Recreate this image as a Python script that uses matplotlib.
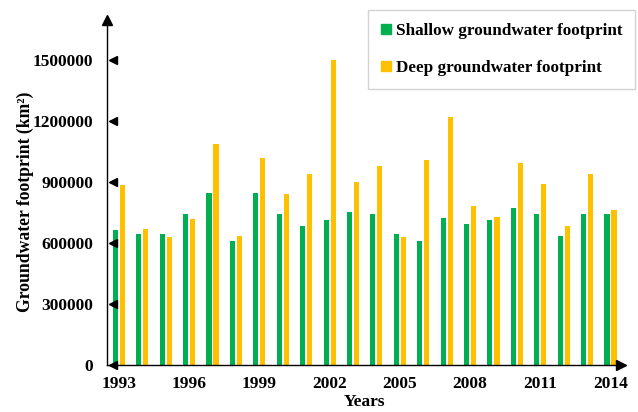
import matplotlib
matplotlib.use("Agg")
import matplotlib.pyplot as plt
import numpy as np
from matplotlib.patches import Patch

years = list(range(1993, 2015))
shallow = [664000, 644000, 644000, 741000, 845000, 611000, 845000, 741000, 684000, 713000, 751000,
           741000, 643000, 611000, 721000, 693000, 713000, 772000, 741000, 635000, 741000, 741000]
deep = [885000, 670000, 631000, 718000, 1087000, 635000, 1020000, 841000, 940000, 1500000, 900000,
        979000, 631000, 1008000, 1218000, 784000, 730000, 995000, 889000, 685000, 940000, 762000]
xtick_years = [1993, 1996, 1999, 2002, 2005, 2008, 2011, 2014]
yticks = [0, 300000, 600000, 900000, 1200000, 1500000]

green = "#00B050"
yellow = "#FFC000"

plt.rcParams['font.family'] = ['Liberation Serif', 'DejaVu Serif']
plt.rcParams['font.weight'] = 'bold'

W, H = 638, 412
fig = plt.figure(figsize=(W / 100, H / 100), dpi=100)
left, bottom, right, top = 107, 365, 621, 20
ax = fig.add_axes([left / W, (H - bottom) / H, (right - left) / W, (bottom - top) / H])

x = np.array(years, dtype=float)
bw = 0.22
off = 0.15
ax.bar(x - off, shallow, width=bw, color=green, edgecolor='none', zorder=2)
ax.bar(x + off, deep, width=bw, color=yellow, edgecolor='none', zorder=2)

ax.set_xlim(1993 - 0.51, 2014.45)
ax.set_ylim(0, 1.697e6)

for s in ['top', 'right']:
    ax.spines[s].set_visible(False)
for s in ['left', 'bottom']:
    ax.spines[s].set_linewidth(1.0)
    ax.spines[s].set_color('black')

fs = 12.5
ax.set_xticks(xtick_years)
ax.set_xticklabels([str(y) for y in xtick_years], fontsize=fs, fontweight='bold')
ax.set_yticks(yticks)
ax.set_yticklabels([str(v) for v in yticks], fontsize=fs, fontweight='bold')
ax.tick_params(axis='both', length=0)
ax.tick_params(axis='x', pad=8)
ax.tick_params(axis='y', pad=10)

# arrowheads
ax.plot([0], [1], marker='^', color='black', markersize=7, transform=ax.transAxes, clip_on=False, zorder=5)
ax.plot([1], [0], marker='>', color='black', markersize=7, transform=ax.transAxes, clip_on=False, zorder=5)
# triangle tick markers
trans = ax.get_yaxis_transform()
ax.plot([0.011] * len(yticks), yticks, linestyle='none', marker='<', color='black', markersize=6,
        transform=trans, clip_on=False, zorder=5)

ax.set_ylabel("Groundwater footprint (km²)", fontsize=12.7, fontweight='bold')
ax.yaxis.set_label_coords(-0.142, 0.472)
ax.set_xlabel("Years", fontsize=fs, fontweight='bold')
ax.xaxis.set_label_coords(0.5, -0.085)

handles = [Patch(color=green, label='Shallow groundwater footprint'),
           Patch(color=yellow, label='Deep groundwater footprint')]
leg = ax.legend(handles=handles, loc='upper right',
                bbox_to_anchor=((635 - left) / (right - left), 1 + (top - 10) / (bottom - top)),
                prop={'weight': 'bold', 'size': 12.3}, frameon=True, fancybox=False,
                handlelength=0.55, handleheight=0.55, handletextpad=0.3, labelspacing=1.25,
                borderpad=0.75, borderaxespad=0)
leg.get_frame().set_edgecolor('#c8c8c8')
leg.get_frame().set_linewidth(1.0)

fig.savefig("out.png", dpi=100)
